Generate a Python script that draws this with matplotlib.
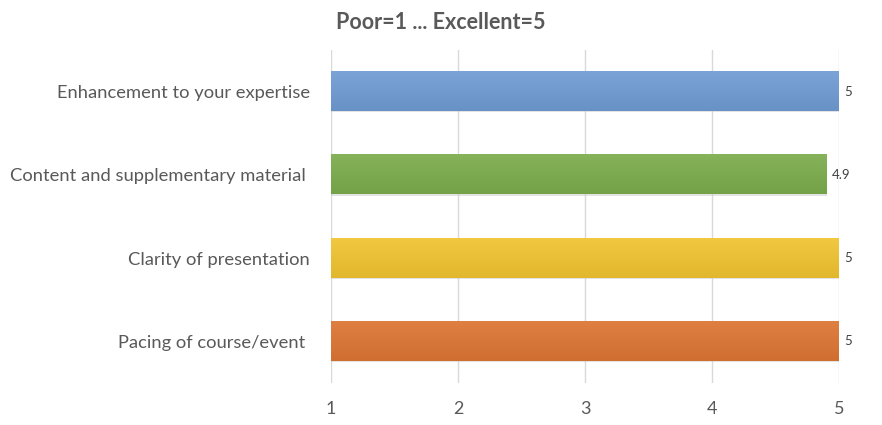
import numpy as np
import matplotlib.pyplot as plt
import matplotlib.colors as mcolors

plt.rcParams['font.family'] = ['Lato', 'DejaVu Sans']

# data (top to bottom in the chart)
categories = ['Enhancement to your expertise',
              'Content and supplementary material ',
              'Clarity of presentation',
              'Pacing of course/event ']
scores = [5, 4.9, 5, 5]
colors = ['#6F9BD3', '#7BAC4C', '#F0C330', '#DC7532']
x_ticks = [1, 2, 3, 4, 5]

fig = plt.figure(figsize=(8.82, 4.25), dpi=100)
ax = fig.add_axes([0.3753, 0.0988, 0.5759, 0.7836])

ypos = np.arange(len(categories))
bars = ax.barh(ypos, np.array(scores) - 1, left=1, height=0.47,
               color='none', edgecolor='none', zorder=3)

# gradient fill + soft shadow, like the Excel style
grad = np.linspace(0, 1, 64).reshape(-1, 1)
for bar, c in zip(bars, colors):
    x0, y0 = bar.get_x(), bar.get_y()
    w, h = bar.get_width(), bar.get_height()
    base = np.array(mcolors.to_rgb(c))
    light = base + (1 - base) * 0.08
    dark = base * 0.94
    img = light[None, :] * (1 - grad) + dark[None, :] * grad
    img = img.reshape(64, 1, 3)
    ax.add_patch(plt.Rectangle((x0 + 0.003, y0 + 0.015), w, h,
                               color='#c8c8c8', alpha=0.5, zorder=2, lw=0))
    ax.imshow(img, extent=(x0, x0 + w, y0 + h, y0), aspect='auto',
              interpolation='bilinear', zorder=3)

for bar, v in zip(bars, scores):
    ax.annotate(f'{v:g}', (bar.get_x() + bar.get_width(), bar.get_y() + bar.get_height() / 2),
                xytext=(4, 0), textcoords='offset points', va='center', ha='left',
                fontsize=9.5, color='#404040')

ax.set_xlim(1, 5)
ax.set_ylim(len(categories) - 0.5, -0.5)
ax.set_xticks(x_ticks)
ax.set_xticklabels([str(t) for t in x_ticks], fontsize=13, color='#595959')
ax.set_yticks(ypos)
ax.set_yticklabels(categories, fontsize=13.2, color='#595959')
ax.tick_params(axis='both', length=0)
ax.tick_params(axis='x', pad=13)
ax.tick_params(axis='y', pad=15)
ax.grid(axis='x', color='#D9D9D9', linewidth=1, zorder=0)
ax.set_axisbelow(True)
for s in ax.spines.values():
    s.set_visible(False)

fig.text(0.5, 0.948, 'Poor=1 ... Excellent=5', ha='center', va='center',
         fontsize=15.5, fontweight='bold', color='#595959')

fig.savefig('out.png', dpi=100)
